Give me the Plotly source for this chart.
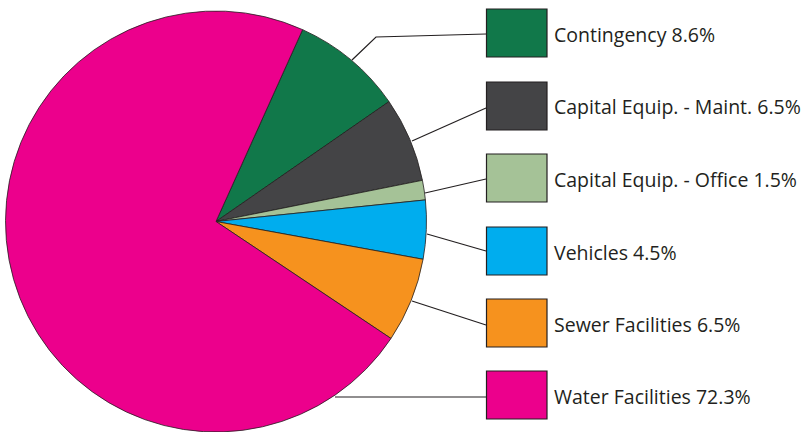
import plotly.graph_objects as go

labels = ["Contingency", "Capital Equip. - Maint.", "Capital Equip. - Office",
          "Vehicles", "Sewer Facilities", "Water Facilities"]
values = [8.6, 6.5, 1.5, 4.5, 6.5, 72.3]
colors = ["#11784a", "#444446", "#a5c297", "#00adee", "#f6921e", "#ec008c"]

W, H = 803, 432

def px(x):
    return x / W

def py(y):
    return 1 - y / H

fig = go.Figure()
fig.add_trace(go.Pie(
    labels=labels, values=values, sort=False, direction="clockwise",
    rotation=24.3, textinfo="none", hoverinfo="label+percent",
    marker=dict(colors=colors, line=dict(color="#231f20", width=0.8)),
    domain=dict(x=[px(4), px(428)], y=[0, py(11)]),
    showlegend=False,
))

box_tops = [9, 82, 154, 227, 299, 371]
leaders = [
    [(352, 60), (376, 37), (486, 34)],
    [(412, 141), (486, 108)],
    [(425, 193), (486, 179)],
    [(427, 234), (486, 251)],
    [(412, 301), (486, 325)],
    [(335, 397), (486, 397)],
]
shapes = []
annotations = []
for i, (lab, val, col) in enumerate(zip(labels, values, colors)):
    t = box_tops[i]
    shapes.append(dict(type="rect", xref="paper", yref="paper",
                       x0=px(486.5), x1=px(547), y0=py(t), y1=py(t + 48),
                       fillcolor=col, line=dict(color="#231f20", width=1.2)))
    pts = leaders[i]
    path = "M " + " L ".join(f"{px(x)},{py(y)}" for x, y in pts)
    shapes.append(dict(type="path", xref="paper", yref="paper", path=path,
                       line=dict(color="#231f20", width=1.2)))
    annotations.append(dict(xref="paper", yref="paper", x=px(551.5), y=py(t + 25),
                            xanchor="left", yanchor="middle", showarrow=False,
                            text=f"{lab} {val}%",
                            font=dict(family="Open Sans, sans-serif", size=19.5, color="#231f20")))

fig.update_layout(width=W, height=H, margin=dict(l=0, r=0, t=0, b=0),
                  paper_bgcolor="white", plot_bgcolor="white",
                  shapes=shapes, annotations=annotations)
fig.write_html("out.html", config={"displayModeBar": False},
               post_script="document.body.style.margin='0';document.body.style.overflow='hidden';")
